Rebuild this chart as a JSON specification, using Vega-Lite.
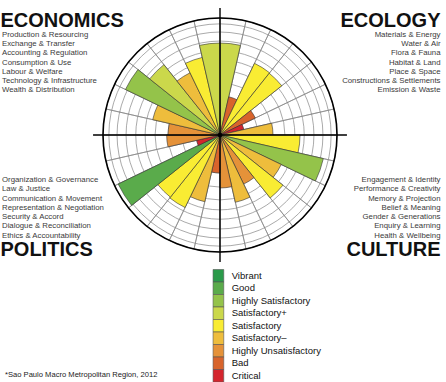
{
  "$schema": "https://vega.github.io/schema/vega-lite/v6.json",
  "width": 440,
  "height": 270,
  "autosize": {"type": "none"},
  "padding": {"left": 0, "top": 0, "right": 6, "bottom": 112},
  "background": "white",
  "config": {"view": {"stroke": null}, "font": "Liberation Sans"},
  "datasets": {
    "segments": [
      {"idx": 0, "domain": "Ecology", "rank": 1, "subdomain": "Materials & Energy", "rating": "Satisfactory+", "score": 78.6},
      {"idx": 1, "domain": "Ecology", "rank": 2, "subdomain": "Water & Air", "rating": "Bad", "score": 33.5},
      {"idx": 2, "domain": "Ecology", "rank": 3, "subdomain": "Flora & Fauna", "rating": "Satisfactory", "score": 68},
      {"idx": 3, "domain": "Ecology", "rank": 4, "subdomain": "Habitat & Land", "rating": "Satisfactory", "score": 67.5},
      {"idx": 4, "domain": "Ecology", "rank": 5, "subdomain": "Place & Space", "rating": "Bad", "score": 33.5},
      {"idx": 5, "domain": "Ecology", "rank": 6, "subdomain": "Constructions & Settlements", "rating": "Critical", "score": 20.9},
      {"idx": 6, "domain": "Ecology", "rank": 7, "subdomain": "Emission & Waste", "rating": "Satisfactory–", "score": 45.3},
      {"idx": 7, "domain": "Culture", "rank": 1, "subdomain": "Engagement & Identity", "rating": "Satisfactory", "score": 68.4},
      {"idx": 8, "domain": "Culture", "rank": 2, "subdomain": "Performance & Creativity", "rating": "Highly Satisfactory", "score": 90.6},
      {"idx": 9, "domain": "Culture", "rank": 3, "subdomain": "Memory & Projection", "rating": "Satisfactory–", "score": 58.1},
      {"idx": 10, "domain": "Culture", "rank": 4, "subdomain": "Belief & Meaning", "rating": "Satisfactory", "score": 68.8},
      {"idx": 11, "domain": "Culture", "rank": 5, "subdomain": "Gender & Generations", "rating": "Highly Unsatisfactory", "score": 46.6},
      {"idx": 12, "domain": "Culture", "rank": 6, "subdomain": "Enquiry & Learning", "rating": "Satisfactory–", "score": 59},
      {"idx": 13, "domain": "Culture", "rank": 7, "subdomain": "Health & Wellbeing", "rating": "Highly Unsatisfactory", "score": 45.3},
      {"idx": 14, "domain": "Politics", "rank": 1, "subdomain": "Organization & Governance", "rating": "Bad", "score": 32.5},
      {"idx": 15, "domain": "Politics", "rank": 2, "subdomain": "Law & Justice", "rating": "Satisfactory–", "score": 58.5},
      {"idx": 16, "domain": "Politics", "rank": 3, "subdomain": "Communication & Movement", "rating": "Satisfactory", "score": 68.8},
      {"idx": 17, "domain": "Politics", "rank": 4, "subdomain": "Representation & Negotiation", "rating": "Satisfactory", "score": 68},
      {"idx": 18, "domain": "Politics", "rank": 5, "subdomain": "Security & Accord", "rating": "Good", "score": 96.6},
      {"idx": 19, "domain": "Politics", "rank": 6, "subdomain": "Dialogue & Reconciliation", "rating": "Critical", "score": 20.5},
      {"idx": 20, "domain": "Politics", "rank": 7, "subdomain": "Ethics & Accountability", "rating": "Highly Unsatisfactory", "score": 45.6},
      {"idx": 21, "domain": "Economics", "rank": 1, "subdomain": "Production & Resourcing", "rating": "Highly Unsatisfactory", "score": 44.4},
      {"idx": 22, "domain": "Economics", "rank": 2, "subdomain": "Exchange & Transfer", "rating": "Satisfactory–", "score": 59},
      {"idx": 23, "domain": "Economics", "rank": 3, "subdomain": "Accounting & Regulation", "rating": "Highly Satisfactory", "score": 89.7},
      {"idx": 24, "domain": "Economics", "rank": 4, "subdomain": "Consumption & Use", "rating": "Satisfactory+", "score": 76.9},
      {"idx": 25, "domain": "Economics", "rank": 5, "subdomain": "Labour & Welfare", "rating": "Satisfactory–", "score": 59},
      {"idx": 26, "domain": "Economics", "rank": 6, "subdomain": "Technology & Infrastructure", "rating": "Satisfactory", "score": 68},
      {"idx": 27, "domain": "Economics", "rank": 7, "subdomain": "Wealth & Distribution", "rating": "Satisfactory+", "score": 78.6}
    ],
    "rings": [
      {"r": 20.5}, {"r": 32.5}, {"r": 44.5}, {"r": 55.5}, {"r": 64}, {"r": 72}, {"r": 80.3}, {"r": 88}, {"r": 95}
    ],
    "ratings": [
      {"rating": "Vibrant"},
      {"rating": "Good"},
      {"rating": "Highly Satisfactory"},
      {"rating": "Satisfactory+"},
      {"rating": "Satisfactory"},
      {"rating": "Satisfactory–"},
      {"rating": "Highly Unsatisfactory"},
      {"rating": "Bad"},
      {"rating": "Critical"}
    ],
    "notes": [
      {"note": "*Sao Paulo Macro Metropolitan Region, 2012"}
    ],
    "labels": [
      {"domain": "Economics", "rank": 0, "label": "ECONOMICS"},
      {"domain": "Economics", "rank": 1, "label": "Production & Resourcing"},
      {"domain": "Economics", "rank": 2, "label": "Exchange & Transfer"},
      {"domain": "Economics", "rank": 3, "label": "Accounting & Regulation"},
      {"domain": "Economics", "rank": 4, "label": "Consumption & Use"},
      {"domain": "Economics", "rank": 5, "label": "Labour & Welfare"},
      {"domain": "Economics", "rank": 6, "label": "Technology & Infrastructure"},
      {"domain": "Economics", "rank": 7, "label": "Wealth & Distribution"},
      {"domain": "Ecology", "rank": 0, "label": "ECOLOGY"},
      {"domain": "Ecology", "rank": 1, "label": "Materials & Energy"},
      {"domain": "Ecology", "rank": 2, "label": "Water & Air"},
      {"domain": "Ecology", "rank": 3, "label": "Flora & Fauna"},
      {"domain": "Ecology", "rank": 4, "label": "Habitat & Land"},
      {"domain": "Ecology", "rank": 5, "label": "Place & Space"},
      {"domain": "Ecology", "rank": 6, "label": "Constructions & Settlements"},
      {"domain": "Ecology", "rank": 7, "label": "Emission & Waste"},
      {"domain": "Politics", "rank": 0, "label": "POLITICS"},
      {"domain": "Politics", "rank": 1, "label": "Organization & Governance"},
      {"domain": "Politics", "rank": 2, "label": "Law & Justice"},
      {"domain": "Politics", "rank": 3, "label": "Communication & Movement"},
      {"domain": "Politics", "rank": 4, "label": "Representation & Negotiation"},
      {"domain": "Politics", "rank": 5, "label": "Security & Accord"},
      {"domain": "Politics", "rank": 6, "label": "Dialogue & Reconciliation"},
      {"domain": "Politics", "rank": 7, "label": "Ethics & Accountability"},
      {"domain": "Culture", "rank": 0, "label": "CULTURE"},
      {"domain": "Culture", "rank": 1, "label": "Engagement & Identity"},
      {"domain": "Culture", "rank": 2, "label": "Performance & Creativity"},
      {"domain": "Culture", "rank": 3, "label": "Memory & Projection"},
      {"domain": "Culture", "rank": 4, "label": "Belief & Meaning"},
      {"domain": "Culture", "rank": 5, "label": "Gender & Generations"},
      {"domain": "Culture", "rank": 6, "label": "Enquiry & Learning"},
      {"domain": "Culture", "rank": 7, "label": "Health & Wellbeing"}
    ]
  },
  "layer": [
    {
      "data": {"name": "rings"},
      "mark": {"type": "arc", "theta": 0, "theta2": 6.2832, "filled": false, "stroke": "#858585", "strokeWidth": 0.7},
      "encoding": {
        "radius": {"field": "r", "type": "quantitative", "stack": null}
      }
    },
    {
      "data": {"name": "segments"},
      "transform": [
        {"aggregate": [{"op": "count", "as": "n"}], "groupby": ["idx", "subdomain"]},
        {"stack": "n", "groupby": [], "sort": [{"field": "idx", "order": "ascending"}], "as": ["t0", "t1"]}
      ],
      "mark": {"type": "arc", "filled": false, "stroke": "#858585", "strokeWidth": 0.7},
      "encoding": {
        "theta": {"field": "t0", "type": "quantitative", "stack": false, "scale": {"domain": [0, 28], "range": [0, 6.283185307]}},
        "theta2": {"field": "t1"},
        "radius": {"datum": 100}
      }
    },
    {
      "data": {"name": "segments"},
      "transform": [
        {"aggregate": [{"op": "count", "as": "n"}], "groupby": ["idx", "domain", "rank", "subdomain", "rating", "score"]},
        {"stack": "n", "groupby": [], "sort": [{"field": "idx", "order": "ascending"}], "as": ["t0", "t1"]}
      ],
      "mark": {"type": "arc", "stroke": "#333333", "strokeWidth": 0.6},
      "encoding": {
        "theta": {"field": "t0", "type": "quantitative", "stack": false},
        "theta2": {"field": "t1"},
        "radius": {"field": "score", "type": "quantitative", "scale": {"type": "linear", "domain": [0, 100], "range": [0, 117], "zero": true}},
        "color": {
          "field": "rating",
          "type": "nominal",
          "scale": {
            "domain": ["Vibrant", "Good", "Highly Satisfactory", "Satisfactory+", "Satisfactory", "Satisfactory–", "Highly Unsatisfactory", "Bad", "Critical"],
            "range": ["#2a9a4a", "#5aab4b", "#94c34a", "#cbd84b", "#f9ec33", "#eebd3c", "#e59239", "#d8642c", "#d4252d"]
          },
          "legend": null
        }
      }
    },
    {
      "data": {"values": [{}]},
      "mark": {"type": "arc", "theta": 0, "theta2": 6.2832, "filled": false, "stroke": "#000000", "strokeWidth": 1.6},
      "encoding": {"radius": {"datum": 100}}
    },
    {
      "data": {"name": "segments"},
      "transform": [{"filter": "datum.rank == 1"}],
      "mark": {"type": "arc", "filled": false, "stroke": "#000000", "strokeWidth": 1.4},
      "encoding": {
        "theta": {"field": "idx", "type": "quantitative", "stack": false},
        "theta2": {"field": "idx"},
        "radius": {"datum": 108.5}
      }
    },
    {
      "data": {"values": [{}]},
      "mark": {"type": "arc", "theta": 0, "theta2": 6.2832, "fill": "#000000"},
      "encoding": {"radius": {"datum": 2}}
    },
    {
      "data": {"name": "ratings"},
      "mark": {"type": "rect", "width": 10.7, "stroke": "#555555", "strokeWidth": 0.6},
      "encoding": {
        "x": {"field": "rating", "type": "nominal", "scale": {"type": "point", "range": [218.4, 218.4]}, "axis": null},
        "y": {"field": "rating", "type": "nominal", "sort": null, "scale": {"type": "band", "range": [269.5, 382], "paddingInner": 0, "paddingOuter": 0}, "axis": null},
        "color": {"field": "rating", "type": "nominal", "legend": null}
      }
    },
    {
      "data": {"name": "ratings"},
      "mark": {"type": "text", "align": "left", "baseline": "middle", "fontSize": 9.5, "color": "#111111"},
      "encoding": {
        "x": {"field": "rating", "type": "nominal", "scale": {"type": "point", "range": [231.7, 231.7]}, "axis": null},
        "y": {"field": "rating", "type": "nominal", "sort": null, "scale": {"type": "band", "range": [269.5, 382], "paddingInner": 0, "paddingOuter": 0}, "axis": null},
        "text": {"field": "rating"}
      }
    },
    {
      "data": {"name": "labels"},
      "transform": [{"filter": "datum.rank > 0 && datum.domain == 'Economics'"}],
      "mark": {"type": "text", "align": "left", "baseline": "middle", "fontSize": 7.8, "color": "#3a3a3a"},
      "encoding": {
        "x": {"field": "domain", "type": "nominal", "scale": {"type": "point", "range": [2, 2]}, "axis": null},
        "y": {"field": "rank", "type": "quantitative", "scale": {"domain": [1, 7], "range": [35, 90.3]}, "axis": null},
        "text": {"field": "label"}
      }
    },
    {
      "data": {"name": "labels"},
      "transform": [{"filter": "datum.rank > 0 && datum.domain == 'Politics'"}],
      "mark": {"type": "text", "align": "left", "baseline": "middle", "fontSize": 7.8, "color": "#3a3a3a"},
      "encoding": {
        "x": {"field": "domain", "type": "nominal", "scale": {"type": "point", "range": [2, 2]}, "axis": null},
        "y": {"field": "rank", "type": "quantitative", "scale": {"domain": [1, 7], "range": [180, 235.5]}, "axis": null},
        "text": {"field": "label"}
      }
    },
    {
      "data": {"name": "labels"},
      "transform": [{"filter": "datum.rank > 0 && datum.domain == 'Ecology'"}],
      "mark": {"type": "text", "align": "right", "baseline": "middle", "fontSize": 7.8, "color": "#3a3a3a"},
      "encoding": {
        "x": {"field": "domain", "type": "nominal", "scale": {"type": "point", "range": [440.5, 440.5]}, "axis": null},
        "y": {"field": "rank", "type": "quantitative", "scale": {"domain": [1, 7], "range": [35, 90.3]}, "axis": null},
        "text": {"field": "label"}
      }
    },
    {
      "data": {"name": "labels"},
      "transform": [{"filter": "datum.rank > 0 && datum.domain == 'Culture'"}],
      "mark": {"type": "text", "align": "right", "baseline": "middle", "fontSize": 7.8, "color": "#3a3a3a"},
      "encoding": {
        "x": {"field": "domain", "type": "nominal", "scale": {"type": "point", "range": [440.5, 440.5]}, "axis": null},
        "y": {"field": "rank", "type": "quantitative", "scale": {"domain": [1, 7], "range": [180, 235.5]}, "axis": null},
        "text": {"field": "label"}
      }
    },
    {
      "data": {"name": "labels"},
      "transform": [{"filter": "datum.rank == 0 && (datum.domain == 'Economics' || datum.domain == 'Politics')"}],
      "mark": {"type": "text", "align": "left", "baseline": "alphabetic", "fontSize": 20, "fontWeight": "bold", "color": "#111111"},
      "encoding": {
        "x": {"field": "domain", "type": "nominal", "scale": {"type": "point", "range": [0.5, 0.5]}, "axis": null},
        "y": {"field": "domain", "type": "nominal", "scale": {"type": "point", "domain": ["Economics", "Politics"], "range": [26.5, 256], "padding": 0}, "axis": null},
        "text": {"field": "label"}
      }
    },
    {
      "data": {"name": "labels"},
      "transform": [{"filter": "datum.rank == 0 && (datum.domain == 'Ecology' || datum.domain == 'Culture')"}],
      "mark": {"type": "text", "align": "right", "baseline": "alphabetic", "fontSize": 20, "fontWeight": "bold", "color": "#111111"},
      "encoding": {
        "x": {"field": "domain", "type": "nominal", "scale": {"type": "point", "range": [440.5, 440.5]}, "axis": null},
        "y": {"field": "domain", "type": "nominal", "scale": {"type": "point", "domain": ["Ecology", "Culture"], "range": [26.5, 256], "padding": 0}, "axis": null},
        "text": {"field": "label"}
      }
    },
    {
      "data": {"name": "notes"},
      "mark": {"type": "text", "align": "left", "baseline": "alphabetic", "fontSize": 7.6, "color": "#222222"},
      "encoding": {
        "x": {"field": "note", "type": "nominal", "scale": {"type": "point", "range": [5, 5]}, "axis": null},
        "y": {"field": "note", "type": "nominal", "scale": {"type": "point", "range": [377, 377]}, "axis": null},
        "text": {"field": "note"}
      }
    }
  ],
  "resolve": {"scale": {"x": "independent", "y": "independent"}}
}
